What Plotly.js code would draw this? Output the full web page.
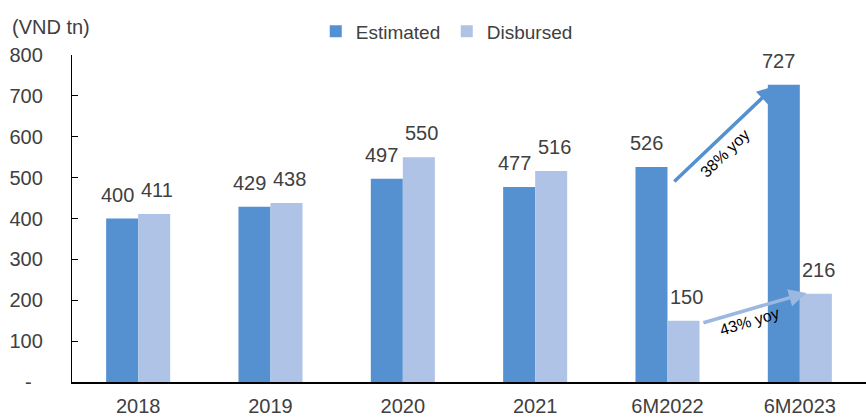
<!DOCTYPE html>
<html>
<head>
<meta charset="utf-8">
<script src="https://cdn.plot.ly/plotly-3.0.1.min.js"></script>
<style>html,body{margin:0;padding:0;background:#fff;}#chart{width:866px;height:417px;}</style>
</head>
<body>
<div id="chart"></div>
<script>
const categories = ['2018', '2019', '2020', '2021', '6M2022', '6M2023'];
const estimated = [400, 429, 497, 477, 526, 727];
const disbursed = [411, 438, 550, 516, 150, 216];
const yTickVals = [0, 100, 200, 300, 400, 500, 600, 700, 800];
const yTickText = ['-\u00a0\u00a0', '100', '200', '300', '400', '500', '600', '700', '800'];
const growthLabels = ['38% yoy', '43% yoy'];

const textColor = '#404040';
const fam = 'Liberation Sans, Arial, sans-serif';
const estColor = '#5591D0';
const disColor = '#AEC3E6';

const bargap = 0.516;
const half = (1 - bargap) / 4; // half a bar width in category units

const traces = [
  {type: 'bar', name: 'Estimated', x: categories, y: estimated, marker: {color: estColor}},
  {type: 'bar', name: 'Disbursed', x: categories, y: disbursed, marker: {color: disColor}}
];

const labelAnns = [];
estimated.forEach((v, i) => labelAnns.push({
  xref: 'x', yref: 'y', x: i - half, y: v, text: String(v), showarrow: false,
  yanchor: 'bottom', xshift: -5, yshift: 11, font: {family: fam, size: 20, color: textColor}
}));
disbursed.forEach((v, i) => labelAnns.push({
  xref: 'x', yref: 'y', x: i + half, y: v, text: String(v), showarrow: false,
  yanchor: 'bottom', xshift: 3, yshift: 11, font: {family: fam, size: 20, color: textColor}
}));

const layout = {
  width: 866, height: 417,
  margin: {l: 72, r: 0, t: 55, b: 35},
  paper_bgcolor: '#fff', plot_bgcolor: '#fff',
  font: {family: fam, size: 19, color: textColor},
  barmode: 'group', bargap: bargap, bargroupgap: 0,
  showlegend: true,
  legend: {orientation: 'h', x: 0.307, xanchor: 'left', y: 1.072, yanchor: 'middle',
           font: {family: fam, size: 19, color: textColor},
           entrywidth: 86, entrywidthmode: 'pixels'},
  xaxis: {type: 'category', showline: true, linecolor: '#000', linewidth: 1.5,
          ticks: '', tickfont: {family: fam, size: 20, color: textColor}, showgrid: false,
          ticklabelstandoff: 5, range: [-0.5, 5.5]},
  yaxis: {range: [0, 800], tickvals: yTickVals, ticktext: yTickText, showline: true,
          linecolor: '#000', linewidth: 1.2, ticks: 'inside', ticklen: 6, tickcolor: '#000',
          showgrid: false, zeroline: false, tickfont: {family: fam, size: 20, color: textColor},
          ticklabelstandoff: 24},
  annotations: labelAnns.concat([
    {xref: 'paper', yref: 'paper', x: -0.078, y: 1.085, xanchor: 'left', yanchor: 'middle',
     text: '(VND tn)', showarrow: false, font: {family: fam, size: 20, color: textColor}},
    {xref: 'x', yref: 'y', x: 4.81, y: 724, ax: 4.04, ay: 487, axref: 'x', ayref: 'y',
     text: '', showarrow: true, arrowhead: 2, arrowsize: 1, arrowwidth: 3.5, arrowcolor: estColor},
    {xref: 'x', yref: 'y', x: 5.05, y: 218, ax: 4.26, ay: 144, axref: 'x', ayref: 'y',
     text: '', showarrow: true, arrowhead: 2, arrowsize: 1, arrowwidth: 3.5, arrowcolor: '#9DB8E0'},
    {xref: 'x', yref: 'y', x: 4.43, y: 560, text: growthLabels[0], showarrow: false,
     textangle: -44, font: {family: fam, size: 16, color: '#000'}},
    {xref: 'x', yref: 'y', x: 4.62, y: 147, text: growthLabels[1], showarrow: false,
     textangle: -17, font: {family: fam, size: 16, color: '#000'}}
  ])
};

Plotly.newPlot('chart', traces, layout, {displayModeBar: false, staticPlot: true});
</script>
</body>
</html>
